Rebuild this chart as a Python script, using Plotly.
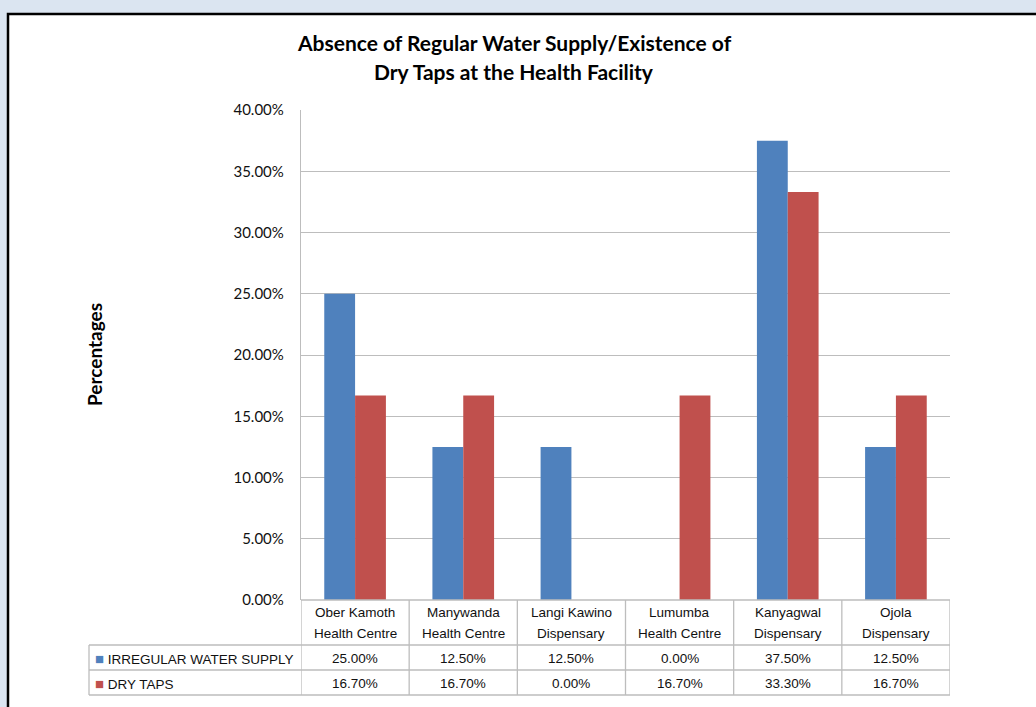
import plotly.graph_objects as go

categories = ["Ober Kamoth<br>Health Centre", "Manywanda<br>Health Centre", "Langi Kawino<br>Dispensary",
              "Lumumba<br>Health Centre", "Kanyagwal<br>Dispensary", "Ojola<br>Dispensary"]
series_names = ["IRREGULAR WATER SUPPLY", "DRY TAPS"]
irregular = [25.0, 12.5, 12.5, 0.0, 37.5, 12.5]
dry_taps = [16.7, 16.7, 0.0, 16.7, 33.3, 16.7]
colors = ["#4f81bd", "#c0504d"]
y_ticks = [0, 5, 10, 15, 20, 25, 30, 35, 40]

W, H = 1036, 707
L, R, T, B = 301, 950, 110, 600
idx = list(range(len(categories)))

# paper coordinates are relative to the plot area
def px(x):
    return (x - L) / (R - L)

def py(y):
    return (B - y) / (B - T)

fig = go.Figure()
for name, vals, col in zip(series_names, [irregular, dry_taps], colors):
    fig.add_trace(go.Bar(x=idx, y=vals, name=name, marker=dict(color=col, line=dict(width=0)),
                         showlegend=False, hoverinfo="y"))

grid = "#bdbdbd"
shapes = []
# white panel with black border
shapes.append(dict(type="rect", xref="paper", yref="paper", x0=px(8), x1=px(1045), y0=py(716), y1=py(14),
                   line=dict(color="black", width=2.5), fillcolor="white", layer="below"))
# table lines
shapes.append(dict(type="line", xref="x", yref="paper", x0=-0.5, x1=5.5, y0=py(B), y1=py(B),
                   line=dict(color=grid, width=1.3)))
for yy in [645, 670, 695]:
    shapes.append(dict(type="line", xref="paper", yref="paper", x0=px(89), x1=px(R), y0=py(yy), y1=py(yy),
                       line=dict(color=grid, width=1.3)))
for k in range(len(categories) + 1):
    shapes.append(dict(type="line", xref="x", yref="paper", x0=k - 0.5, x1=k - 0.5,
                       y0=py(B), y1=py(695), line=dict(color=grid, width=1.3)))
shapes.append(dict(type="line", xref="paper", yref="paper", x0=px(89), x1=px(89),
                   y0=py(645), y1=py(695), line=dict(color=grid, width=1.3)))

annotations = []
tfont = dict(family="Liberation Sans, Arial", size=13.5, color="#111111")
for i, c in enumerate(categories):
    parts = c.split("<br>")
    for j, p in enumerate(parts):
        annotations.append(dict(x=i, y=py(612 + 21 * j), xref="x", yref="paper", text=p, showarrow=False,
                                font=tfont, xanchor="center", yanchor="middle"))
for r, (name, vals, col) in enumerate(zip(series_names, [irregular, dry_taps], colors)):
    yc = py(658 + 25 * r)
    annotations.append(dict(x=px(93), y=yc, xref="paper", yref="paper", xanchor="left", yanchor="middle",
                            text=f'<span style="color:{col};font-size:15px">■</span> {name}', showarrow=False,
                            font=tfont))
    for i, v in enumerate(vals):
        annotations.append(dict(x=i, y=yc, xref="x", yref="paper", text=f"{v:.2f}%", showarrow=False,
                                font=tfont, xanchor="center", yanchor="middle"))

tf = dict(family="Lato", size=21, color="black")
annotations.append(dict(x=px(514), y=py(43), xref="paper", yref="paper", showarrow=False,
                        text="<b>Absence of Regular Water Supply/Existence of</b>",
                        font=tf, xanchor="center", yanchor="middle"))
annotations.append(dict(x=px(514), y=py(72), xref="paper", yref="paper", showarrow=False,
                        text="<b>Dry Taps at the Health Facility</b>",
                        font=tf, xanchor="center", yanchor="middle"))
annotations.append(dict(x=px(94), y=py(355), xref="paper", yref="paper", showarrow=False, textangle=-90,
                        text="<b>Percentages</b>", font=dict(family="Lato", size=19, color="black"),
                        xanchor="center", yanchor="middle"))

fig.update_layout(
    width=W, height=H,
    margin=dict(l=L, r=W - R, t=T, b=H - B, pad=0),
    paper_bgcolor="#dbe5f1", plot_bgcolor="white",
    barmode="group", bargap=0.43, bargroupgap=0,
    shapes=shapes, annotations=annotations,
    xaxis=dict(range=[-0.5, 5.5], showticklabels=False, showgrid=False, zeroline=False,
               showline=False, fixedrange=True),
    yaxis=dict(range=[0, 40], tickvals=y_ticks, ticktext=[f"{t:.2f}%" for t in y_ticks],
               showgrid=True, gridcolor=grid, gridwidth=1.3, zeroline=False,
               showline=True, linecolor=grid, linewidth=1.3, ticks="", ticklabelstandoff=13,
               tickfont=dict(family="Lato", size=15, color="#111111"), fixedrange=True),
)
fig.write_html("out.html")
